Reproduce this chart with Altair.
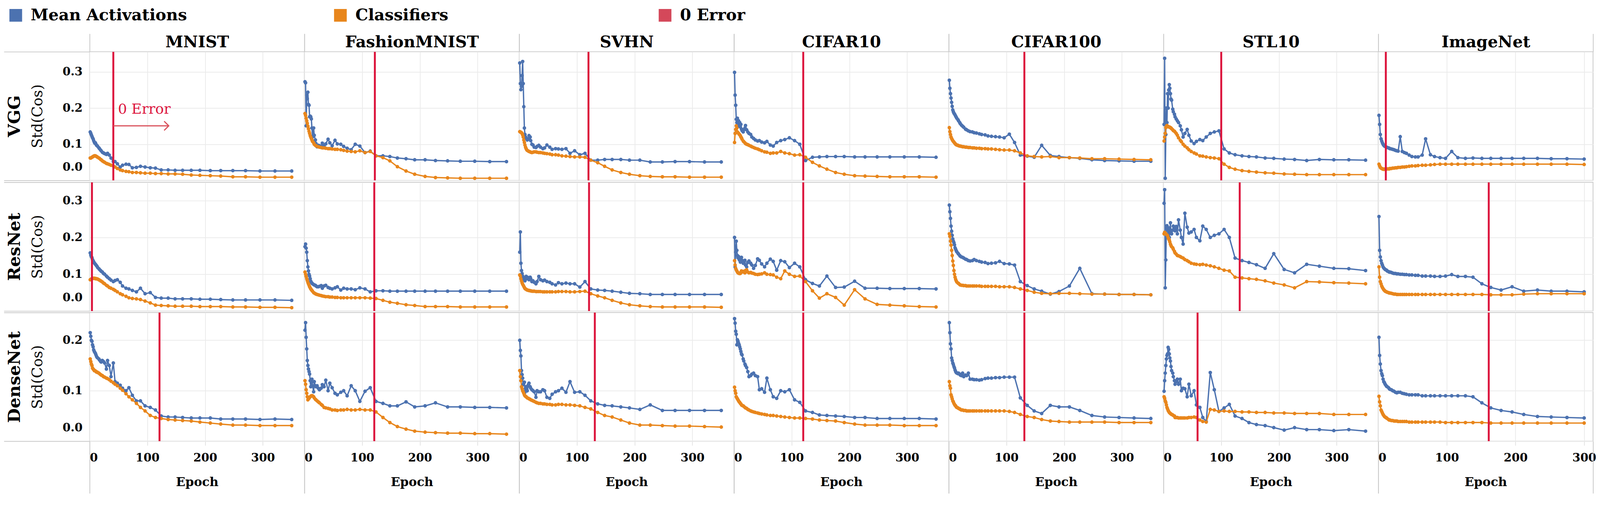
import altair as alt
import pandas as pd

FONT = "DejaVu Serif"
DATASETS = ["MNIST", "FashionMNIST", "SVHN", "CIFAR10", "CIFAR100", "STL10", "ImageNet"]
MODELS = ["VGG", "ResNet", "DenseNet"]
SERIES = ["Mean Activations", "Classifiers", "0 Error"]
COLORS = ["#4C72B0", "#E8861C", "#D4485A"]
RULE_COLOR = "#DC143C"
ARROW_COLOR = "#D9505A"
BORDER = "#c8c8c8"
GRID_COLOR = "#ebebeb"

EPOCHS_350 = [1, 2, 3, 4, 5, 6, 7, 8, 9, 10, 11, 12, 13, 14, 16, 17, 19, 20, 22, 24,
              26, 29, 31, 34, 37, 41, 44, 48, 53, 57, 63, 68, 74, 81, 88, 96, 105, 114, 124, 136,
              148, 161, 176, 191, 209, 227, 248, 270, 295, 321, 350]
EPOCHS_300 = [1, 2, 3, 4, 5, 6, 7, 8, 9, 10, 11, 12, 13, 15, 16, 17, 19, 21, 23, 25,
              27, 29, 32, 35, 38, 41, 45, 49, 54, 58, 64, 69, 76, 82, 90, 98, 107, 116, 127, 138,
              151, 164, 179, 195, 212, 232, 252, 275, 300]
X_TICKS = [0, 100, 200, 300]
X_MAX_350 = 372
X_MAX_300 = 313
Y_MAX = {"VGG": 0.356, "ResNet": 0.35, "DenseNet": 0.255}
Y_TICKS = {"VGG": [0, 0.1, 0.2, 0.3], "ResNet": [0, 0.1, 0.2, 0.3], "DenseNet": [0, 0.1, 0.2]}
ZERO_ERROR_EPOCH = {
    "VGG": [41, 122, 120, 120, 131, 100, 11],
    "ResNet": [4, 121, 121, 120, 131, 132, 161],
    "DenseNet": [121, 121, 131, 120, 131, 59, 161],
}
# annotation in the VGG / MNIST panel
ANNOT_LABEL = "0 Error"
ANNOT_TEXT_EPOCH = 49
ANNOT_TEXT_Y = 0.196
ARROW_FROM = 41
ARROW_TO = 137
ARROW_Y = 0.151

# ---------------- VGG ----------------
VGG_MNIST_MEAN = [.134, .130, .126, .122, .118, .115, .110, .106, .103, .104,
                  .100, .097, .096, .094, .090, .088, .084, .082, .078, .076,
                  .074, .072, .075, .070, .062, .052, .052, .046, .037, .042,
                  .045, .044, .035, .036, .039, .037, .035, .034, .029, .029,
                  .028, .028, .028, .028, .027, .027, .027, .027, .026, .026, .026]
VGG_MNIST_CLF = [.062, .062, .063, .064, .065, .066, .067, .068, .068, .068,
                 .067, .066, .065, .064, .062, .061, .058, .057, .054, .052,
                 .050, .047, .046, .044, .042, .040, .037, .033, .029, .027,
                 .025, .024, .022, .022, .021, .020, .020, .019, .019, .018,
                 .018, .017, .015, .014, .013, .012, .010, .010, .009, .009, .009]
VGG_FMNIST_MEAN = [.273, .270, .151, .236, .226, .244, .210, .208, .176, .178,
                   .176, .170, .145, .120, .145, .125, .112, .102, .093, .097,
                   .096, .094, .103, .096, .101, .114, .104, .096, .111, .101,
                   .100, .094, .089, .085, .100, .095, .077, .081, .068, .068,
                   .066, .062, .060, .057, .057, .055, .054, .053, .053, .052, .052]
VGG_FMNIST_CLF = [.185, .180, .172, .165, .158, .150, .143, .136, .130, .124,
                  .120, .116, .112, .108, .104, .100, .097, .096, .094, .093,
                  .092, .091, .090, .090, .089, .088, .088, .087, .086, .086,
                  .085, .083, .081, .080, .079, .082, .077, .080, .068, .063,
                  .054, .038, .026, .017, .011, .008, .007, .006, .006, .006, .006]
VGG_SVHN_MEAN = [.325, .268, .251, .260, .290, .329, .268, .204, .145, .127,
                 .120, .117, .115, .112, .115, .124, .120, .110, .100, .098,
                 .092, .091, .094, .097, .092, .088, .090, .098, .092, .086,
                 .088, .087, .086, .088, .075, .082, .071, .075, .056, .056,
                 .058, .058, .058, .056, .056, .051, .051, .052, .052, .051, .051]
VGG_SVHN_CLF = [.135, .134, .133, .132, .130, .126, .120, .112, .105, .098,
                .092, .088, .085, .083, .081, .080, .079, .078, .077, .078,
                .079, .079, .078, .077, .077, .076, .075, .074, .073, .071,
                .071, .070, .068, .067, .066, .065, .065, .064, .056, .049,
                .039, .029, .022, .017, .013, .011, .010, .010, .009, .009, .009]
VGG_CIFAR10_MEAN = [.299, .236, .208, .169, .160, .172, .158, .165, .150, .160,
                    .148, .155, .142, .138, .134, .140, .145, .152, .140, .134,
                    .130, .127, .120, .116, .112, .109, .110, .106, .104, .108,
                    .098, .095, .105, .110, .113, .118, .110, .100, .055, .064,
                    .065, .066, .066, .066, .065, .065, .065, .065, .065, .065, .064]
VGG_CIFAR10_CLF = [.105, .130, .141, .151, .145, .134, .132, .130, .128, .126,
                   .124, .120, .118, .114, .109, .107, .104, .102, .100, .099,
                   .097, .095, .093, .091, .089, .087, .085, .082, .079, .078,
                   .075, .076, .076, .080, .076, .074, .070, .071, .064, .050,
                   .040, .031, .022, .017, .013, .012, .011, .010, .010, .010, .009]
VGG_CIFAR100_MEAN = [.277, .255, .240, .228, .216, .205, .195, .190, .186, .184,
                     .181, .178, .175, .172, .168, .165, .160, .157, .153, .150,
                     .147, .142, .140, .137, .135, .134, .132, .131, .129, .127,
                     .126, .123, .122, .121, .120, .118, .128, .105, .070, .067,
                     .064, .097, .069, .066, .063, .061, .057, .055, .054, .053, .053]
VGG_CIFAR100_CLF = [.146, .135, .127, .120, .116, .113, .110, .108, .106, .104,
                    .102, .100, .099, .098, .097, .096, .095, .095, .094, .093,
                    .093, .092, .092, .091, .091, .090, .090, .089, .089, .088,
                    .088, .087, .087, .086, .085, .084, .084, .082, .076, .068,
                    .066, .065, .066, .063, .063, .062, .060, .060, .059, .058, .057]
VGG_STL10_MEAN = [.155, .338, .006, .127, .200, .160, .240, .200, .250, .265,
                  .255, .240, .225, .222, .197, .190, .183, .176, .170, .165,
                  .160, .151, .140, .120, .130, .141, .125, .109, .102, .108,
                  .113, .110, .120, .130, .134, .137, .087, .076, .071, .068,
                  .066, .065, .062, .061, .059, .058, .055, .058, .057, .057, .056]
VGG_STL10_CLF = [.109, .120, .130, .146, .150, .152, .150, .149, .148, .148,
                 .147, .146, .145, .143, .140, .138, .136, .134, .130, .125,
                 .118, .111, .107, .100, .095, .090, .085, .080, .076, .073,
                 .068, .067, .065, .063, .062, .060, .045, .036, .031, .027,
                 .025, .023, .021, .020, .018, .017, .016, .016, .016, .016, .016]
VGG_IMAGENET_MEAN = [.180, .155, .127, .115, .109, .104, .100, .097, .095, .094,
                     .093, .092, .091, .090, .089, .088, .087, .086, .085, .083,
                     .082, .081, .121, .080, .077, .075, .070, .066, .065, .065,
                     .070, .115, .071, .066, .063, .061, .080, .063, .061, .062,
                     .061, .061, .061, .061, .061, .061, .060, .060, .059]
VGG_IMAGENET_CLF = [.045, .040, .036, .034, .033, .032, .031, .031, .031, .031,
                    .031, .032, .032, .032, .032, .033, .033, .034, .034, .035,
                    .035, .036, .036, .037, .037, .038, .039, .040, .040, .041,
                    .042, .042, .043, .044, .045, .045, .045, .045, .045, .045,
                    .045, .045, .045, .045, .045, .045, .045, .045, .044]

# ---------------- ResNet ----------------
RESNET_MNIST_MEAN = [.158, .152, .148, .145, .140, .137, .134, .131, .129, .127,
                     .125, .123, .121, .118, .115, .113, .110, .108, .106, .102,
                     .100, .095, .092, .088, .084, .080, .083, .085, .078, .068,
                     .062, .060, .056, .052, .062, .047, .050, .037, .035, .035,
                     .033, .033, .033, .032, .032, .031, .030, .030, .030, .030, .029]
RESNET_MNIST_CLF = [.085, .086, .087, .088, .089, .089, .089, .089, .089, .088,
                    .088, .088, .087, .087, .085, .084, .082, .081, .079, .076,
                    .074, .070, .068, .064, .062, .059, .056, .052, .047, .044,
                    .040, .036, .034, .033, .031, .027, .022, .016, .015, .014,
                    .013, .013, .013, .012, .012, .012, .011, .011, .010, .010, .009]
RESNET_FMNIST_MEAN = [.175, .182, .171, .160, .137, .120, .109, .100, .095, .088,
                      .081, .078, .076, .074, .072, .071, .070, .068, .066, .066,
                      .067, .069, .062, .068, .070, .064, .062, .060, .063, .066,
                      .057, .062, .060, .060, .058, .063, .060, .052, .055, .055,
                      .054, .054, .054, .054, .054, .054, .054, .054, .054, .054, .054]
RESNET_FMNIST_CLF = [.106, .100, .094, .088, .083, .078, .074, .070, .066, .063,
                     .060, .058, .056, .054, .050, .049, .047, .046, .045, .044,
                     .043, .042, .041, .040, .039, .039, .038, .038, .037, .037,
                     .036, .036, .036, .036, .036, .036, .036, .035, .034, .029,
                     .024, .021, .017, .015, .012, .012, .012, .011, .011, .011, .011]
RESNET_SVHN_MEAN = [.160, .215, .130, .110, .102, .095, .090, .088, .085, .082,
                    .090, .094, .088, .092, .087, .085, .092, .088, .080, .082,
                    .078, .074, .080, .094, .085, .082, .084, .080, .078, .074,
                    .071, .077, .074, .076, .074, .074, .065, .080, .060, .057,
                    .056, .054, .051, .048, .047, .045, .045, .045, .045, .045, .045]
RESNET_SVHN_CLF = [.098, .095, .088, .082, .077, .073, .070, .067, .064, .061,
                   .060, .059, .058, .057, .056, .056, .055, .055, .054, .054,
                   .054, .053, .053, .053, .053, .052, .052, .052, .052, .052,
                   .052, .053, .053, .053, .052, .052, .053, .054, .047, .041,
                   .036, .029, .022, .017, .014, .012, .011, .011, .011, .011, .010]
RESNET_CIFAR10_MEAN = [.200, .120, .160, .190, .165, .151, .145, .148, .140, .138,
                       .133, .140, .146, .138, .130, .135, .138, .125, .120, .132,
                       .136, .130, .125, .116, .124, .142, .138, .128, .120, .130,
                       .141, .135, .111, .137, .134, .118, .130, .120, .085, .075,
                       .068, .095, .064, .065, .081, .062, .062, .061, .061, .061, .060]
RESNET_CIFAR10_CLF = [.137, .125, .116, .112, .109, .106, .104, .103, .102, .102,
                      .102, .105, .109, .106, .108, .106, .104, .110, .112, .106,
                      .104, .105, .103, .102, .100, .099, .100, .101, .104, .100,
                      .099, .098, .092, .088, .109, .100, .094, .095, .080, .055,
                      .035, .047, .037, .016, .058, .033, .018, .016, .014, .012, .011]
RESNET_CIFAR100_MEAN = [.288, .270, .252, .231, .217, .206, .196, .190, .186, .180,
                        .172, .168, .164, .161, .157, .155, .151, .149, .147, .146,
                        .144, .141, .140, .137, .136, .137, .140, .137, .135, .133,
                        .132, .129, .130, .131, .135, .129, .128, .125, .080, .069,
                        .060, .054, .046, .053, .068, .116, .047, .046, .045, .045, .044]
RESNET_CIFAR100_CLF = [.210, .203, .190, .179, .165, .151, .136, .124, .110, .100,
                       .092, .086, .082, .079, .076, .075, .072, .071, .070, .070,
                       .069, .069, .068, .068, .068, .068, .068, .068, .068, .067,
                       .067, .067, .067, .067, .066, .066, .066, .064, .060, .056,
                       .051, .048, .047, .048, .048, .047, .046, .046, .045, .045, .044]
RESNET_STL10_MEAN = [.293, .330, .063, .139, .225, .232, .220, .210, .226, .200,
                     .219, .240, .213, .210, .220, .231, .225, .218, .230, .210,
                     .248, .220, .200, .182, .266, .228, .212, .215, .222, .200,
                     .191, .231, .222, .200, .206, .210, .222, .200, .144, .137,
                     .132, .126, .116, .156, .113, .104, .127, .122, .116, .115, .110]
RESNET_STL10_CLF = [.210, .214, .212, .210, .208, .207, .205, .200, .196, .193,
                    .188, .182, .178, .175, .172, .168, .162, .158, .155, .151,
                    .150, .148, .146, .144, .140, .137, .134, .130, .128, .127,
                    .126, .127, .125, .123, .120, .116, .111, .109, .092, .090,
                    .088, .086, .082, .076, .071, .063, .080, .079, .077, .076, .074]
RESNET_IMAGENET_MEAN = [.257, .165, .147, .137, .130, .125, .120, .117, .115, .113,
                        .112, .111, .109, .107, .106, .106, .105, .103, .102, .102,
                        .101, .101, .100, .100, .099, .099, .098, .098, .097, .097,
                        .095, .095, .095, .094, .094, .095, .099, .094, .094, .092,
                        .074, .064, .057, .066, .054, .057, .054, .054, .052]
RESNET_IMAGENET_CLF = [.120, .092, .080, .074, .068, .064, .061, .058, .056, .054,
                       .053, .052, .051, .050, .049, .049, .048, .047, .046, .046,
                       .045, .045, .045, .045, .045, .045, .045, .045, .045, .045,
                       .045, .045, .045, .045, .045, .045, .045, .045, .045, .045,
                       .045, .044, .044, .044, .046, .047, .047, .047, .047]

# ---------------- DenseNet ----------------
DENSENET_MNIST_MEAN = [.215, .208, .200, .198, .191, .187, .181, .178, .176, .174,
                       .171, .168, .166, .165, .163, .161, .158, .157, .160, .158,
                       .155, .143, .160, .150, .128, .155, .118, .115, .111, .105,
                       .100, .106, .091, .080, .080, .070, .067, .062, .050, .048,
                       .048, .047, .046, .046, .046, .044, .044, .044, .043, .044, .043]
DENSENET_MNIST_CLF = [.163, .158, .153, .150, .145, .143, .142, .140, .140, .139,
                      .138, .137, .137, .136, .135, .134, .132, .131, .130, .128,
                      .127, .125, .124, .122, .119, .116, .113, .110, .105, .101,
                      .094, .088, .082, .075, .067, .060, .051, .047, .045, .043,
                      .042, .041, .040, .038, .036, .034, .032, .032, .031, .031, .031]
DENSENET_FMNIST_MEAN = [.220, .235, .206, .183, .160, .150, .143, .138, .133, .120,
                        .108, .115, .123, .110, .098, .118, .110, .108, .110, .105,
                        .102, .105, .112, .108, .121, .100, .115, .106, .095, .092,
                        .097, .100, .090, .110, .100, .079, .099, .106, .079, .075,
                        .070, .070, .078, .068, .070, .076, .068, .068, .067, .067, .066]
DENSENET_FMNIST_CLF = [.120, .113, .102, .095, .088, .082, .084, .085, .087, .088,
                       .089, .090, .090, .090, .088, .086, .083, .082, .080, .078,
                       .076, .073, .071, .067, .066, .065, .064, .062, .062, .061,
                       .062, .062, .063, .062, .062, .063, .062, .062, .058, .047,
                       .037, .029, .024, .020, .018, .017, .016, .016, .015, .015, .014]
DENSENET_SVHN_MEAN = [.200, .180, .169, .140, .132, .125, .112, .115, .117, .097,
                      .105, .108, .103, .100, .112, .115, .108, .105, .102, .100,
                      .098, .087, .100, .098, .098, .102, .100, .087, .085, .093,
                      .098, .100, .105, .097, .118, .097, .098, .091, .080, .074,
                      .071, .070, .068, .066, .063, .072, .061, .061, .061, .061, .061]
DENSENET_SVHN_CLF = [.140, .128, .120, .108, .104, .100, .098, .095, .092, .090,
                     .089, .088, .087, .086, .085, .084, .083, .082, .081, .080,
                     .079, .077, .076, .075, .075, .074, .074, .073, .073, .072,
                     .072, .073, .073, .072, .072, .071, .070, .067, .064, .057,
                     .051, .048, .042, .036, .032, .032, .031, .030, .030, .029, .028]
DENSENET_CIFAR10_MEAN = [.243, .234, .218, .212, .191, .201, .198, .194, .191, .187,
                         .183, .178, .173, .171, .163, .159, .153, .150, .146, .138,
                         .128, .130, .133, .135, .130, .128, .102, .104, .097, .125,
                         .102, .088, .085, .100, .098, .102, .082, .077, .060, .057,
                         .052, .051, .050, .049, .047, .047, .045, .045, .045, .045, .044]
DENSENET_CIFAR10_CLF = [.107, .100, .095, .088, .086, .084, .082, .080, .078, .077,
                        .075, .074, .072, .071, .070, .069, .067, .066, .065, .063,
                        .062, .060, .059, .058, .057, .056, .055, .054, .053, .052,
                        .051, .051, .050, .049, .048, .047, .046, .046, .045, .044,
                        .042, .041, .040, .037, .034, .032, .032, .032, .031, .031, .031]
DENSENET_CIFAR100_MEAN = [.235, .215, .193, .183, .165, .160, .155, .152, .148, .145,
                          .141, .138, .136, .135, .134, .135, .133, .131, .130, .135,
                          .128, .131, .130, .135, .123, .123, .122, .122, .121, .122,
                          .124, .125, .125, .126, .126, .127, .127, .127, .086, .071,
                          .060, .055, .071, .068, .068, .061, .051, .048, .047, .046, .045]
DENSENET_CIFAR100_CLF = [.118, .110, .105, .092, .088, .084, .080, .078, .075, .073,
                         .071, .070, .068, .067, .066, .065, .064, .063, .062, .062,
                         .061, .061, .060, .060, .060, .060, .060, .060, .060, .060,
                         .060, .060, .060, .060, .060, .060, .059, .057, .053, .049,
                         .047, .043, .040, .039, .038, .038, .038, .038, .037, .037, .037]
DENSENET_STL10_MEAN = [.099, .120, .135, .150, .163, .170, .173, .186, .182, .173,
                       .165, .159, .148, .140, .135, .128, .120, .113, .118, .123,
                       .113, .123, .100, .105, .104, .088, .113, .090, .100, .072,
                       .067, .047, .039, .136, .102, .059, .066, .073, .050, .045,
                       .037, .033, .031, .027, .022, .027, .023, .023, .021, .023, .020]
DENSENET_STL10_CLF = [.088, .085, .080, .077, .072, .067, .064, .061, .059, .057,
                      .056, .055, .054, .053, .052, .051, .050, .047, .047, .047,
                      .046, .046, .046, .046, .046, .046, .047, .047, .048, .047,
                      .042, .039, .038, .063, .062, .059, .060, .059, .059, .058,
                      .058, .057, .057, .056, .056, .055, .055, .055, .053, .053, .053]
DENSENET_IMAGENET_MEAN = [.206, .170, .153, .140, .134, .130, .123, .118, .116, .113,
                          .111, .109, .108, .106, .104, .103, .102, .100, .099, .097,
                          .096, .097, .097, .095, .094, .093, .092, .092, .092, .092,
                          .090, .090, .090, .090, .090, .090, .090, .090, .090, .088,
                          .076, .066, .061, .058, .053, .049, .048, .047, .046]
DENSENET_IMAGENET_CLF = [.089, .078, .070, .062, .059, .056, .053, .051, .049, .048,
                         .047, .046, .045, .043, .042, .042, .041, .041, .040, .040,
                         .040, .039, .039, .039, .039, .039, .038, .038, .038, .038,
                         .038, .038, .038, .038, .038, .037, .037, .037, .037, .037,
                         .037, .036, .036, .036, .036, .036, .036, .036, .036]

SERIES_DATA = {
    ("VGG", "MNIST"): (VGG_MNIST_MEAN, VGG_MNIST_CLF),
    ("VGG", "FashionMNIST"): (VGG_FMNIST_MEAN, VGG_FMNIST_CLF),
    ("VGG", "SVHN"): (VGG_SVHN_MEAN, VGG_SVHN_CLF),
    ("VGG", "CIFAR10"): (VGG_CIFAR10_MEAN, VGG_CIFAR10_CLF),
    ("VGG", "CIFAR100"): (VGG_CIFAR100_MEAN, VGG_CIFAR100_CLF),
    ("VGG", "STL10"): (VGG_STL10_MEAN, VGG_STL10_CLF),
    ("VGG", "ImageNet"): (VGG_IMAGENET_MEAN, VGG_IMAGENET_CLF),
    ("ResNet", "MNIST"): (RESNET_MNIST_MEAN, RESNET_MNIST_CLF),
    ("ResNet", "FashionMNIST"): (RESNET_FMNIST_MEAN, RESNET_FMNIST_CLF),
    ("ResNet", "SVHN"): (RESNET_SVHN_MEAN, RESNET_SVHN_CLF),
    ("ResNet", "CIFAR10"): (RESNET_CIFAR10_MEAN, RESNET_CIFAR10_CLF),
    ("ResNet", "CIFAR100"): (RESNET_CIFAR100_MEAN, RESNET_CIFAR100_CLF),
    ("ResNet", "STL10"): (RESNET_STL10_MEAN, RESNET_STL10_CLF),
    ("ResNet", "ImageNet"): (RESNET_IMAGENET_MEAN, RESNET_IMAGENET_CLF),
    ("DenseNet", "MNIST"): (DENSENET_MNIST_MEAN, DENSENET_MNIST_CLF),
    ("DenseNet", "FashionMNIST"): (DENSENET_FMNIST_MEAN, DENSENET_FMNIST_CLF),
    ("DenseNet", "SVHN"): (DENSENET_SVHN_MEAN, DENSENET_SVHN_CLF),
    ("DenseNet", "CIFAR10"): (DENSENET_CIFAR10_MEAN, DENSENET_CIFAR10_CLF),
    ("DenseNet", "CIFAR100"): (DENSENET_CIFAR100_MEAN, DENSENET_CIFAR100_CLF),
    ("DenseNet", "STL10"): (DENSENET_STL10_MEAN, DENSENET_STL10_CLF),
    ("DenseNet", "ImageNet"): (DENSENET_IMAGENET_MEAN, DENSENET_IMAGENET_CLF),
}

PANEL_W = 561
PANEL_H = 336

LEGEND = alt.Legend(
    title=None, orient="none", legendX=-214, legendY=-116, direction="horizontal",
    symbolType="square", symbolSize=1100, symbolStrokeWidth=0, symbolOpacity=1,
    labelFont=FONT, labelFontSize=42, labelFontWeight="bold", labelColor="black",
    labelOffset=18, labelLimit=1000, columnPadding=379, gridAlign="all",
)


def main_x_axis(bottom):
    if bottom:
        return alt.Axis(orient="bottom", values=X_TICKS, format="d", title="Epoch", grid=True,
                        gridColor=GRID_COLOR, gridWidth=2, domain=False, ticks=True,
                        tickColor="#e3e3e3", tickSize=11, tickWidth=2, labelFont=FONT,
                        labelFontSize=30, labelFontWeight="bold", labelColor="black",
                        labelPadding=17, labelFlush=True, labelAngle=0, titleFont=FONT,
                        titleFontSize=32, titleFontWeight="bold", titleColor="black",
                        titlePadding=34)
    return alt.Axis(orient="bottom", values=X_TICKS, grid=True, gridColor=GRID_COLOR, gridWidth=2,
                    labels=False, ticks=False, domain=False, title=None, minExtent=0)


def main_y_axis(model, left):
    if left:
        return alt.Axis(orient="left", values=Y_TICKS[model], format=".1f", title="Std(Cos)",
                        grid=True, gridColor=GRID_COLOR, gridWidth=2, domain=False, ticks=False,
                        labelFont=FONT, labelFontSize=30, labelFontWeight="bold", labelColor="black",
                        labelPadding=19, labelFlush=True, labelFlushOffset=-20,
                        titleFont=FONT, titleFontSize=38, titleFontWeight="normal",
                        titleColor="black", titlePadding=45, minExtent=0)
    return alt.Axis(orient="left", values=Y_TICKS[model], grid=True, gridColor=GRID_COLOR,
                    gridWidth=2, labels=False, ticks=False, domain=False, title=None, minExtent=0)


def deco_x_axis(mi, ds, xmax):
    # table-like separators above the header row and below the axis row; column names
    if mi == 0:
        return alt.Axis(orient="top", values=[0, xmax], ticks=True, tickSize=47, tickColor=BORDER,
                        tickWidth=2, labels=False, domain=False, grid=False, title=ds,
                        titleFont=FONT, titleFontSize=42, titleFontWeight="bold",
                        titleColor="black", titleY=-12, titleBaseline="alphabetic", minExtent=0)
    if mi == 2:
        return alt.Axis(orient="bottom", values=[0, xmax], ticks=True, tickSize=136,
                        tickColor=BORDER, tickWidth=2, labels=False, domain=False, grid=False,
                        title=None, minExtent=0)
    return None


def deco_y_axis(model, di):
    if di == 0:
        return alt.Axis(orient="left", values=[0, Y_MAX[model]], ticks=True, tickSize=224,
                        tickColor=BORDER, tickWidth=2, labels=False, domain=False, grid=False,
                        title=model, titleFont=FONT, titleFontSize=44, titleFontWeight="bold",
                        titleColor="black", titleX=-196, titleY=PANEL_H / 2, titleAngle=270,
                        titleAlign="center", titleBaseline="middle", minExtent=0)
    return None


def make_panel(mi, di):
    model, ds = MODELS[mi], DATASETS[di]
    epochs = EPOCHS_300 if ds == "ImageNet" else EPOCHS_350
    xmax = X_MAX_300 if ds == "ImageNet" else X_MAX_350
    mean, clf = SERIES_DATA[(model, ds)]
    rows = [{"epoch": e, "value": v, "series": SERIES[0]} for e, v in zip(epochs, mean)]
    rows += [{"epoch": e, "value": v, "series": SERIES[1]} for e, v in zip(epochs, clf)]
    df = pd.DataFrame(rows)

    xscale = alt.Scale(domain=[0, xmax], nice=False, zero=False)
    yscale = alt.Scale(domain=[0, Y_MAX[model]], nice=False, zero=False)
    xenc = alt.X("epoch:Q", scale=xscale, axis=main_x_axis(mi == 2))
    yenc = alt.Y("value:Q", scale=yscale, axis=main_y_axis(model, di == 0))
    color_scale = alt.Scale(domain=SERIES, range=COLORS)

    base = alt.Chart(df)
    lines = base.mark_line(strokeWidth=3.5).encode(
        x=xenc, y=yenc, color=alt.Color("series:N", scale=color_scale, legend=None))
    pts = base.mark_circle(size=80, opacity=1).encode(
        x=xenc, y=yenc, color=alt.Color("series:N", scale=color_scale, legend=LEGEND))

    rule_df = pd.DataFrame({"epoch": [ZERO_ERROR_EPOCH[model][di]]})
    rule = alt.Chart(rule_df).mark_rule(strokeWidth=5, color=RULE_COLOR, clip=True).encode(x=xenc)

    layers = [pts, lines, pts, rule]
    if mi == 0 and di == 0:
        txt_df = pd.DataFrame({"epoch": [ANNOT_TEXT_EPOCH], "value": [ANNOT_TEXT_Y],
                               "label": [ANNOT_LABEL]})
        arr_df = pd.DataFrame({"epoch": [ARROW_FROM], "epoch_end": [ARROW_TO], "value": [ARROW_Y]})
        head_df = pd.DataFrame({"epoch": [ARROW_TO], "value": [ARROW_Y]})
        txt = alt.Chart(txt_df).mark_text(align="left", baseline="middle", font=FONT,
                                          fontSize=37, color=RULE_COLOR).encode(
            x=xenc, y=yenc, text="label:N")
        shaft = alt.Chart(arr_df).mark_rule(strokeWidth=3, color=ARROW_COLOR).encode(
            x=xenc, x2="epoch_end:Q", y=yenc)
        head = alt.Chart(head_df).mark_point(shape="M -1 -1 L 0 0 L -1 1", filled=False,
                                             size=576, strokeWidth=3, color=ARROW_COLOR,
                                             opacity=1).encode(x=xenc, y=yenc)
        layers += [txt, shaft, head]

    main = alt.layer(*layers)
    dx = deco_x_axis(mi, ds, xmax)
    dy = deco_y_axis(model, di)
    if dx is not None or dy is not None:
        deco = base.mark_point(opacity=0, size=1).encode(
            x=alt.X("epoch:Q", scale=xscale, axis=dx),
            y=alt.Y("value:Q", scale=yscale, axis=dy))
        chart = alt.layer(main, deco).resolve_axis(x="independent", y="independent")
    else:
        chart = main
    return chart.properties(width=PANEL_W, height=PANEL_H)


rows = []
for mi, model in enumerate(MODELS):
    panels = [make_panel(mi, di) for di in range(len(DATASETS))]
    rows.append(alt.hconcat(*panels, spacing=0, bounds="flush"))

chart = alt.vconcat(*rows, spacing=0).properties(
    padding={"left": 0, "top": -2, "right": 0, "bottom": 0}, background="white"
).configure_view(stroke=BORDER, strokeWidth=2)

chart.save("out.html", embed_options={"renderer": "svg", "actions": False})
